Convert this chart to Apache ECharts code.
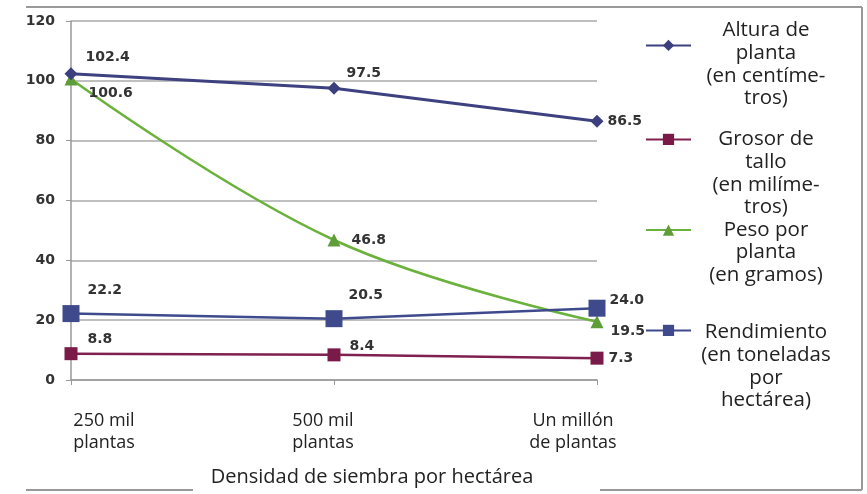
<!DOCTYPE html>
<html>
<head>
<meta charset="utf-8">
<script src="https://cdn.jsdelivr.net/npm/echarts@6/dist/echarts.min.js"></script>
<style>
html,body{margin:0;padding:0;background:#fff;}
#chart{width:867px;height:494px;}
</style>
</head>
<body>
<div id="chart"></div>
<script>
var categories = ['250 mil\nplantas', '500 mil\nplantas', 'Un millón\nde plantas'];
var seriesNames = [
  'Altura de\nplanta\n(en centíme-\ntros)',
  'Grosor de\ntallo\n(en milíme-\ntros)',
  'Peso por\nplanta\n(en gramos)',
  'Rendimiento\n(en toneladas\npor\nhectárea)'
];
var alturaValues = [102.4, 97.5, 86.5];
var grosorValues = [8.8, 8.4, 7.3];
var pesoValues = [100.6, 46.8, 19.5];
var rendimientoValues = [22.2, 20.5, 24.0];
var yTicks = [0, 20, 40, 60, 80, 100, 120];
var xAxisTitle = 'Densidad de siembra por hectárea';

var labelFont = {fontFamily: 'DejaVu Sans', fontWeight: 'bold', fontSize: 14, color: '#333'};

function withLabels(values, offsets) {
  return values.map(function (v, i) {
    return {
      value: v,
      label: Object.assign({show: true, position: 'right', offset: offsets[i],
        formatter: function (p) { return p.value.toFixed(1); }}, labelFont)
    };
  });
}

var chart = echarts.init(document.getElementById('chart'), null, {renderer: 'canvas'});

var legendTextBase = {fontFamily: 'Open Sans', fontSize: 20.5, color: '#222'};
function legendFor(name, top, spacer) {
  return {
    show: true,
    data: [name],
    orient: 'vertical',
    left: 645,
    top: top,
    padding: 0,
    itemWidth: 45,
    itemHeight: 14,
    selectedMode: false,
    formatter: function (n) { return '{sp| }\n{t|' + n + '}'; },
    textStyle: Object.assign({}, legendTextBase, {
      rich: {
        sp: {lineHeight: spacer, fontSize: 4, width: 140},
        t: Object.assign({}, legendTextBase, {lineHeight: 22.7, width: 140, align: 'center'})
      }
    })
  };
}

var option = {
  backgroundColor: '#ffffff',
  animation: false,
  grid: {left: 71, right: 270, top: 21, bottom: 114, containLabel: false},
  legend: [
    legendFor(seriesNames[0], -2, 38),
    legendFor(seriesNames[1], 92, 68),
    legendFor(seriesNames[2], 194, 45),
    legendFor(seriesNames[3], 283, 72)
  ],
  xAxis: {
    type: 'category',
    data: categories,
    boundaryGap: false,
    axisLine: {lineStyle: {color: '#999', width: 1.5}},
    axisTick: {show: true, alignWithLabel: true, length: 5, lineStyle: {color: '#999'}},
    axisLabel: {
      margin: 30,
      interval: 0,
      formatter: function (v, i) { return '{c' + i + '|' + v + '}'; },
      rich: {
        c0: {fontFamily: 'Open Sans', fontSize: 18, color: '#222', lineHeight: 22, padding: [0, 0, 0, 66]},
        c1: {fontFamily: 'Open Sans', fontSize: 18, color: '#222', lineHeight: 22, padding: [0, 22, 0, 0]},
        c2: {fontFamily: 'Open Sans', fontSize: 18, color: '#222', lineHeight: 22, padding: [0, 48, 0, 0]}
      }
    },
    name: xAxisTitle,
    nameLocation: 'middle',
    nameGap: 87,
    nameTextStyle: {fontFamily: 'Open Sans', fontSize: 20, color: '#222', padding: [0, 0, 0, 76]}
  },
  yAxis: {
    type: 'value',
    min: yTicks[0],
    max: yTicks[yTicks.length - 1],
    interval: yTicks[1] - yTicks[0],
    axisLine: {show: true, lineStyle: {color: '#999', width: 1.5}},
    axisTick: {show: true, length: 5, lineStyle: {color: '#999'}},
    splitLine: {show: true, lineStyle: {color: '#aaa', width: 1.5}},
    axisLabel: {margin: 16, fontFamily: 'DejaVu Sans', fontWeight: 'bold', fontSize: 14, color: '#333'}
  },
  series: [
    {
      name: seriesNames[0], type: 'line', data: withLabels(alturaValues, [[3, -16], [1, -15], [-1, 0]]),
      symbol: 'diamond', symbolSize: 13,
      lineStyle: {color: '#3d417f', width: 3}, itemStyle: {color: '#3b3f7d'}, z: 4
    },
    {
      name: seriesNames[1], type: 'line', data: withLabels(grosorValues, [[5, -14], [4, -9], [0, 0]]),
      symbol: 'rect', symbolSize: 13,
      lineStyle: {color: '#7f2050', width: 2.5}, itemStyle: {color: '#7a1a48'}, z: 3
    },
    {
      name: seriesNames[2], type: 'line', smooth: 0.4, data: withLabels(pesoValues, [[6, 14], [6, 0], [2, 10]]),
      symbol: 'triangle', symbolSize: 13,
      lineStyle: {color: '#6ab23c', width: 2.5}, itemStyle: {color: '#5f9c3a'}, z: 3
    },
    {
      name: seriesNames[3], type: 'line', data: withLabels(rendimientoValues, [[3, -23], [1, -23], [-1, -8]]),
      symbol: 'rect', symbolSize: 17,
      lineStyle: {color: '#3e4a8c', width: 2.5}, itemStyle: {color: '#3f4a8d'}, z: 5
    }
  ],
  graphic: [
    {type: 'line', shape: {x1: 26, y1: 7, x2: 862, y2: 7}, style: {stroke: '#999', lineWidth: 2}},
    {type: 'line', shape: {x1: 862, y1: 7, x2: 862, y2: 490}, style: {stroke: '#999', lineWidth: 2}},
    {type: 'line', shape: {x1: 26, y1: 490, x2: 193, y2: 490}, style: {stroke: '#999', lineWidth: 2}},
    {type: 'line', shape: {x1: 600, y1: 490, x2: 862, y2: 490}, style: {stroke: '#999', lineWidth: 2}}
  ]
};
chart.setOption(option);
</script>
</body>
</html>
